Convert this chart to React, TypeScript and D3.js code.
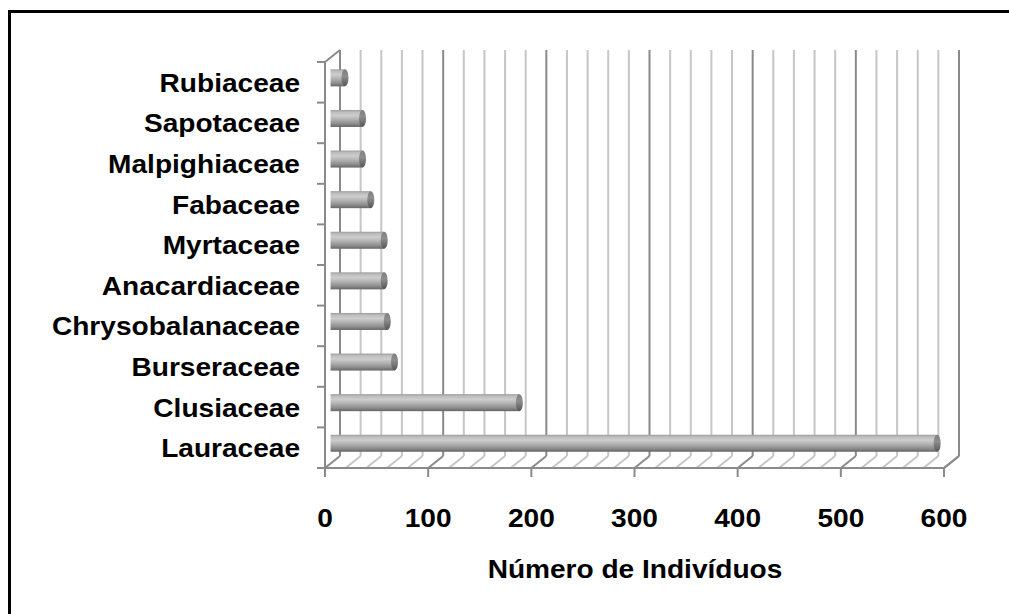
import React from "react";
import * as d3 from "d3";

const categories = [
  "Lauraceae",
  "Clusiaceae",
  "Burseraceae",
  "Chrysobalanaceae",
  "Anacardiaceae",
  "Myrtaceae",
  "Fabaceae",
  "Malpighiaceae",
  "Sapotaceae",
  "Rubiaceae",
];
const values = [588, 183, 62, 55, 52, 52, 39, 31, 31, 14];
const majorTicks = [0, 100, 200, 300, 400, 500, 600];
const minorTicks = d3.range(0, 601, 20);
const axisTitle = "Número de Indivíduos";

const W = 1009;
const H = 614;
const DX = 15;
const DY = -12;
const FRONT_BOTTOM = 468;
const FRONT_TOP = 62;
const BAR_DEPTH = 0.37;
const BAR_R = 8.5;
const FONT = "'Liberation Sans', Arial, sans-serif";
const SX = 1.08;

function Label({ x, y, anchor, children }: { x: number; y: number; anchor: string; children: React.ReactNode }) {
  return (
    <g transform={`translate(${x},${y}) scale(${SX},1)`}>
      <text
        x={0}
        y={0}
        textAnchor={anchor}
        fontFamily={FONT}
        fontWeight="bold"
        fontSize={26}
        fill="#000"
      >
        {children}
      </text>
    </g>
  );
}

export default function App() {
  const x = d3.scaleLinear().domain([0, 600]).range([325, 944]);
  const yBand = d3
    .scaleBand<string>()
    .domain(categories)
    .range([FRONT_BOTTOM, FRONT_TOP])
    .padding(0);
  const step = (FRONT_BOTTOM - FRONT_TOP) / categories.length;
  const boundaries = d3.range(0, categories.length + 1).map((i) => FRONT_BOTTOM - i * step);
  const center = (c: string) => {
    const i = categories.indexOf(c);
    return (boundaries[i] + boundaries[i + 1]) / 2;
  };
  void yBand;

  return (
    <svg
      width={W}
      height={H}
      style={{ position: "absolute", left: 0, top: 0, display: "block", background: "#fff" }}
    >
      <defs>
        <linearGradient id="cyl" x1="0" y1="0" x2="0" y2="1">
          <stop offset="0" stopColor="#9a9a9a" />
          <stop offset="0.12" stopColor="#bdbdbd" />
          <stop offset="0.32" stopColor="#cdcdcd" />
          <stop offset="0.55" stopColor="#b2b2b2" />
          <stop offset="0.8" stopColor="#8e8e8e" />
          <stop offset="1" stopColor="#666666" />
        </linearGradient>
        <linearGradient id="cap" x1="0" y1="0" x2="0" y2="1">
          <stop offset="0" stopColor="#7e7e7e" />
          <stop offset="0.4" stopColor="#8e8e8e" />
          <stop offset="1" stopColor="#555555" />
        </linearGradient>
      </defs>
      <rect x={9.5} y={11.5} width={1200} height={800} fill="#fff" stroke="#000" strokeWidth={3} />

      {/* back wall gridlines */}
      {minorTicks.map((v) => (
        <line
          key={"bw" + v}
          x1={x(v) + DX}
          x2={x(v) + DX}
          y1={FRONT_TOP + DY}
          y2={FRONT_BOTTOM + DY}
          stroke={v % 100 === 0 ? "#8a8a8a" : "#c6c6c6"}
          strokeWidth={2}
        />
      ))}
      {/* floor gridlines */}
      {minorTicks.map((v) => (
        <line
          key={"fl" + v}
          x1={x(v) + DX}
          x2={x(v)}
          y1={FRONT_BOTTOM + DY}
          y2={FRONT_BOTTOM}
          stroke={v % 100 === 0 ? "#8a8a8a" : "#c6c6c6"}
          strokeWidth={2}
        />
      ))}
      {/* left wall */}
      <line x1={x(0)} x2={x(0)} y1={FRONT_TOP} y2={FRONT_BOTTOM + 9} stroke="#8a8a8a" strokeWidth={2} />
      <line x1={x(0)} x2={x(0) + DX} y1={FRONT_TOP} y2={FRONT_TOP + DY} stroke="#8a8a8a" strokeWidth={2} />
      {boundaries.map((b, i) => (
        <line key={"lt" + i} x1={x(0) - 8} x2={x(0)} y1={b} y2={b} stroke="#8a8a8a" strokeWidth={2} />
      ))}
      {/* floor front edge and right edge */}
      <line x1={x(0) - 8} x2={x(600)} y1={FRONT_BOTTOM} y2={FRONT_BOTTOM} stroke="#8a8a8a" strokeWidth={2} />
      <line x1={x(600)} x2={x(600) + DX} y1={FRONT_BOTTOM} y2={FRONT_BOTTOM + DY} stroke="#8a8a8a" strokeWidth={2} />
      {majorTicks.map((v) => (
        <line key={"bt" + v} x1={x(v)} x2={x(v)} y1={FRONT_BOTTOM} y2={FRONT_BOTTOM + 9} stroke="#8a8a8a" strokeWidth={2} />
      ))}

      {/* bars */}
      {categories.map((c, i) => {
        const cy = center(c) + DY * BAR_DEPTH;
        const x0 = x(0) + DX * BAR_DEPTH;
        const x1 = x(values[i]) + DX * BAR_DEPTH;
        return (
          <g key={"bar" + c}>
            <rect x={x0} y={cy - BAR_R} width={x1 - x0} height={BAR_R * 2} fill="url(#cyl)" />
            <ellipse cx={x1} cy={cy} rx={3.5} ry={BAR_R} fill="url(#cap)" />
          </g>
        );
      })}

      {/* category labels */}
      {categories.map((c) => (
        <Label key={"lab" + c} x={300} y={center(c) + 9.5} anchor="end">
          {c}
        </Label>
      ))}

      {/* tick labels */}
      {majorTicks.map((v) => (
        <Label key={"tl" + v} x={x(v)} y={527} anchor="middle">
          {v}
        </Label>
      ))}
      <Label x={635} y={578} anchor="middle">
        {axisTitle}
      </Label>
    </svg>
  );
}
